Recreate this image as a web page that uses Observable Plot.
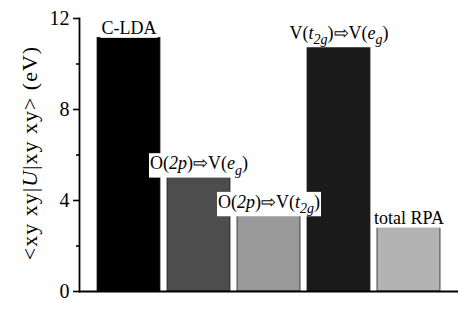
<!DOCTYPE html>
<html><head><meta charset="utf-8">
<script src="https://cdn.jsdelivr.net/npm/d3@7"></script>
<script src="https://cdn.jsdelivr.net/npm/@observablehq/plot@0.6"></script>
<style>body{margin:0;background:#fff} svg text, svg tspan {font-family: "Liberation Serif", "Times New Roman", Times, serif;}</style>
</head><body><div id="chart"></div>
<script>
const categories = ["C-LDA", "O2p-Veg", "O2p-Vt2g", "Vt2g-Veg", "total RPA"];
const values = [11.15, 5.2, 3.5, 10.93, 2.8];
const fills = ["#000000", "#4d4d4d", "#9a9a9a", "#1a1a1a", "#b3b3b3"];
const yTicks = [0, 4, 8, 12];
const yMinor = [2, 6, 10];
// rich label segments: [text, flags] (i = italic, s = subscript)
const labels = [
  [["C-LDA"]],
  [["O("], ["2p", "i"], [")\u21E8V("], ["e", "i"], ["g", "is"], [")"]],
  [["O("], ["2p", "i"], [")\u21E8V("], ["t", "i"], ["2g", "is"], [")"]],
  [["V("], ["t", "i"], ["2g", "is"], [")\u21E8V("], ["e", "i"], ["g", "is"], [")"]],
  [["total RPA"]]
];
const yLabel = [["<xy xy|"], ["U", "i"], ["|xy xy> (eV)"]];

const serif = "Liberation Serif, Times New Roman, Times, serif";
const chart = Plot.plot({
  width: 472, height: 316,
  marginLeft: 79, marginRight: 14, marginTop: 18, marginBottom: 25,
  style: {fontFamily: serif, background: "#fff", color: "#000", overflow: "visible"},
  x: {domain: categories, paddingInner: 0.1, paddingOuter: 0.257, axis: null},
  y: {domain: [0, 12], axis: null},
  color: {type: "identity"},
  marks: [
    Plot.barY(categories, {x: d => d, y: (d, i) => values[i], fill: (d, i) => fills[i], stroke: "#222", strokeWidth: 0.8}),
    Plot.axisY(yTicks, {tickSize: 6, tickPadding: 4, fontSize: 20, fontFamily: serif, strokeWidth: 1.6, label: null}),
    Plot.axisY(yMinor, {tickSize: 3, text: null, strokeWidth: 1.6, label: null}),
    Plot.frame({anchor: "left", strokeWidth: 1.8}),
    Plot.ruleY([0], {strokeWidth: 2}),
    Plot.text(categories, {x: d => d, y: (d, i) => values[i], text: d => d, lineAnchor: "bottom", dy: -4, fontSize: 18, fontFamily: serif, fill: "#000"}),
    Plot.text([0], {frameAnchor: "left", text: () => "y", rotate: -90, dx: -50, dy: -2, textAnchor: "middle", lineAnchor: "middle", fontSize: 22, fontFamily: serif, fill: "#000"})
  ]
});
chart.setAttribute("font-family", serif);
document.getElementById("chart").appendChild(chart);

function fillRich(textEl, segs, size) {
  while (textEl.firstChild) textEl.removeChild(textEl.firstChild);
  let shifted = false;
  for (const [t, f = ""] of segs) {
    const ts = document.createElementNS("http://www.w3.org/2000/svg", "tspan");
    ts.textContent = t;
    if (f.includes("i")) ts.setAttribute("font-style", "italic");
    if (f.includes("s")) {
      ts.setAttribute("font-size", Math.round(size * 0.8));
      if (!shifted) { ts.setAttribute("dy", size * 0.3); shifted = true; }
    } else if (shifted) {
      ts.setAttribute("dy", -size * 0.3); shifted = false;
    }
    textEl.appendChild(ts);
  }
}
const textGroups = chart.querySelectorAll('g[aria-label="text"]');
const barTexts = textGroups[0].querySelectorAll("text");
barTexts.forEach((el, i) => fillRich(el, labels[i], 18));
const ylab = textGroups[1].querySelector("text");
fillRich(ylab, yLabel, 22);
ylab.setAttribute("letter-spacing", "1");
// white boxes behind bar labels
const g0 = textGroups[0];
const rects = [];
barTexts.forEach(el => {
  const b = el.getBBox();
  const tr = el.getAttribute("transform");
  const r = document.createElementNS("http://www.w3.org/2000/svg", "rect");
  r.setAttribute("x", b.x - 1); r.setAttribute("y", b.y);
  r.setAttribute("width", b.width + 2); r.setAttribute("height", b.height);
  r.setAttribute("fill", "#fff");
  if (tr) r.setAttribute("transform", tr);
  rects.push(r);
});
rects.reverse().forEach(r => g0.insertBefore(r, g0.firstChild));
</script>
</body></html>
